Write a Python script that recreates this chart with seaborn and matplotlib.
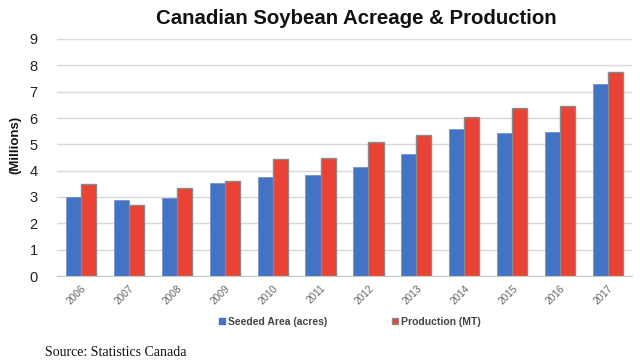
import matplotlib
matplotlib.use("Agg")
import matplotlib.pyplot as plt
import seaborn as sns
import pandas as pd
from matplotlib.patches import Patch

years = ["2006", "2007", "2008", "2009", "2010", "2011", "2012", "2013", "2014", "2015", "2016", "2017"]
seeded_area = [3.00, 2.88, 2.97, 3.52, 3.75, 3.85, 4.15, 4.62, 5.57, 5.42, 5.45, 7.28]
production = [3.48, 2.70, 3.35, 3.60, 4.45, 4.47, 5.08, 5.35, 6.05, 6.38, 6.45, 7.73]
series_names = ["Seeded Area (acres)", "Production (MT)"]
colors = ["#4472C4", "#EA4335"]

df = pd.DataFrame({
    "Year": years * 2,
    "Value": seeded_area + production,
    "Series": [series_names[0]] * len(years) + [series_names[1]] * len(years),
})

sns.set_style("white")
plt.rcParams["font.family"] = ["Liberation Sans", "DejaVu Sans"]

fig = plt.figure(figsize=(6.4, 3.63), dpi=100)
ax = fig.add_axes([57/640, 1-276/363, (632-57)/640, (276-39)/363])

sns.barplot(data=df, x="Year", y="Value", hue="Series", palette=colors,
            width=0.63, ax=ax, legend=False, saturation=1)

for i, cont in enumerate(ax.containers):
    for bar in cont:
        if i == 1:
            bar.set_edgecolor("#8a8a8a")
            bar.set_linewidth(1.0)
        else:
            bar.set_edgecolor("#5a82cc")
            bar.set_linewidth(0.4)

ax.set_ylim(0, 9)
ax.set_xlim(-0.5, len(years) - 0.5)
ax.set_yticks(range(0, 10))
ax.yaxis.grid(True, color="#d9d9d9", linewidth=1.0)
ax.set_axisbelow(True)
for s in ["top", "right", "left"]:
    ax.spines[s].set_visible(False)
ax.spines["bottom"].set_color("#c8c8c8")
ax.tick_params(axis="y", length=0, labelsize=10.5, colors="#222222", pad=14)
ax.tick_params(axis="x", length=0, labelsize=7.3, colors="#666666", pad=5)
plt.setp(ax.get_xticklabels(), rotation=45, ha="right", rotation_mode="anchor")
ax.set_xlabel("")
ax.set_ylabel("")

fig.text(15/640, 1-145/363, "(Millions)", rotation=90, ha="center", va="center",
         fontsize=9.5, fontweight="bold", color="#111111")
fig.text(356/640, 1-18/363, "Canadian Soybean Acreage & Production", ha="center", va="center",
         fontsize=14.7, fontweight="bold", color="#111111")

handles = [Patch(facecolor=colors[0], edgecolor=colors[0]),
           Patch(facecolor=colors[1], edgecolor="#8a8a8a")]
leg = fig.legend(handles, series_names, loc="center", bbox_to_anchor=(350/640, 1-322/363),
                 ncol=2, frameon=False, fontsize=7.5, handlelength=0.55, handleheight=0.55,
                 handletextpad=0.3, columnspacing=6.2)
for t in leg.get_texts():
    t.set_color("#444444")
    t.set_fontweight("bold")

fig.text(45/640, 1-352/363, "Source: Statistics Canada", ha="left", va="center",
         fontsize=10, family=["Liberation Serif", "DejaVu Serif"], color="#111111")

fig.savefig("out.png", dpi=100)
